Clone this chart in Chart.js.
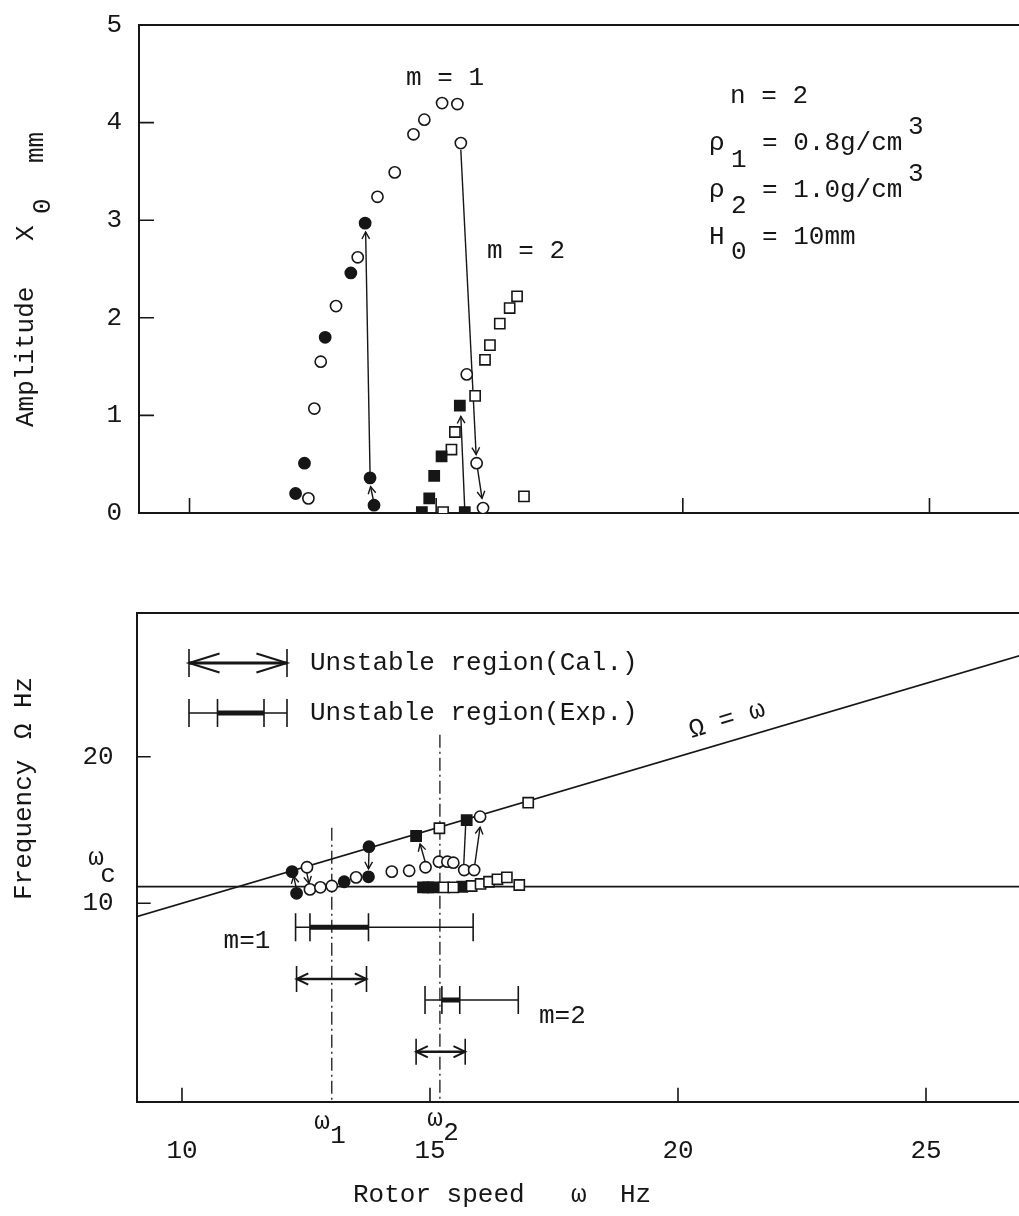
<!DOCTYPE html>
<html>
<head>
<meta charset="utf-8">
<script src="https://cdn.jsdelivr.net/npm/chart.js@4.4.1/dist/chart.umd.min.js"></script>
<style>
  html, body { margin: 0; padding: 0; background: #fff; }
  #wrap { position: relative; width: 1019px; height: 1216px; overflow: hidden; background: #fff; }
  canvas { position: absolute; left: 0; }
  #ampChart { top: 0; }
  #freqChart { top: 570px; }
</style>
</head>
<body>
<div id="wrap">
  <canvas id="ampChart" width="1019" height="570"></canvas>
  <canvas id="freqChart" width="1019" height="646"></canvas>
</div>
<script>
// ---- top panel: amplitude X0 (mm) vs rotor speed w (Hz)
const ampXTicks = [10, 15, 20, 25];
const ampYTicks = [0, 1, 2, 3, 4, 5];

const m1OpenW = [12.41, 12.53, 12.66, 12.97, 13.41, 13.81, 14.16, 14.54, 14.76, 15.12, 15.43, 15.50, 15.62, 15.82, 15.95];
const m1OpenAmp = [0.15, 1.07, 1.55, 2.12, 2.62, 3.24, 3.49, 3.88, 4.03, 4.20, 4.19, 3.79, 1.42, 0.51, 0.05];
const m1FillW = [12.15, 12.33, 12.75, 13.27, 13.56, 13.66, 13.74];
const m1FillAmp = [0.20, 0.51, 1.80, 2.46, 2.97, 0.36, 0.08];
const m2FillW = [14.71, 14.86, 14.96, 15.11, 15.48, 15.58];
const m2FillAmp = [0.01, 0.15, 0.38, 0.58, 1.10, 0.01];
const m2OpenW = [15.14, 15.31, 15.38, 15.79, 15.99, 16.09, 16.29, 16.49, 16.64, 16.78];
const m2OpenAmp = [0.01, 0.65, 0.83, 1.20, 1.57, 1.72, 1.94, 2.10, 2.22, 0.17];

// jumps: [w from, amp from, w to, amp to]
const ampJumps = [
  [13.74, 0.10, 13.67, 0.27],
  [13.66, 0.40, 13.57, 2.88],
  [15.50, 3.72, 15.81, 0.60],
  [15.84, 0.45, 15.93, 0.15],
  [15.58, 0.03, 15.50, 0.99]
];

// ---- bottom panel: frequency Omega (Hz) vs rotor speed w (Hz)
const freqXTicks = [10, 15, 20, 25];
const freqYTicks = [10, 20];

const fFillCircW = [12.22, 12.31, 13.27, 13.77, 13.76];
const fFillCircF = [12.16, 10.68, 11.47, 13.86, 11.81];
const fOpenCircW = [12.52, 12.58, 12.79, 13.02, 13.51, 14.23, 14.58, 14.91, 15.18, 15.35, 15.47, 15.69, 15.89, 16.01];
const fOpenCircF = [12.46, 10.95, 11.09, 11.18, 11.77, 12.16, 12.22, 12.46, 12.84, 12.84, 12.77, 12.27, 12.27, 15.91];
const fFillSqW = [14.72, 15.74, 14.86, 14.96, 15.06, 15.65];
const fFillSqF = [14.59, 15.68, 11.09, 11.09, 11.09, 11.13];
const fOpenSqW = [15.19, 16.98, 15.28, 15.47, 15.84, 16.02, 16.19, 16.36, 16.55, 16.80];
const fOpenSqF = [15.12, 16.86, 11.09, 11.09, 11.18, 11.32, 11.47, 11.64, 11.77, 11.25];

const syncW = [9, 27];          // Omega = w
const omegaC = 11.14;           // w_c
const critW = [13.02, 15.20];   // w1, w2
const critTop = [15.15, 21.5];

// [w from, F from, w to, F to, head]
const freqJumps = [
  [13.77, 13.60, 13.76, 12.35, 1],
  [12.31, 10.95, 12.25, 11.85, 1],
  [12.51, 12.20, 12.56, 11.35, 1],
  [14.91, 12.75, 14.80, 14.05, 1],
  [15.72, 15.40, 15.68, 12.60, 0],
  [15.90, 12.55, 16.01, 15.20, 1]
];

// unstable regions: calculated (arrows) and experimental (bars)
const calLevel = [4.84, -0.12];
const calFrom = [12.31, 14.72];
const calTo = [13.72, 15.71];
const expLevel = [8.36, 3.40];
const expFrom = [12.29, 14.90];
const expLo = [12.58, 15.24];
const expHi = [13.76, 15.60];
const expTo = [15.87, 16.78];

const ink = '#161616';
const mono = '"Liberation Mono", "DejaVu Sans Mono", monospace';
const fpx = 26;

function pts(ws, vs) { return ws.map((w, i) => ({ x: w, y: vs[i] })); }

function markers(ws, vs, shape, filled, clip) {
  return {
    data: pts(ws, vs),
    showLine: false,
    pointStyle: shape,
    pointRadius: shape === 'rect' ? 7.2 : 5.6,
    pointBorderWidth: 1.6,
    pointBorderColor: ink,
    pointBackgroundColor: filled ? ink : '#fff',
    clip: clip,
    order: 0
  };
}

function line(ws, vs, width, dash, order) {
  return {
    data: pts(ws, vs),
    showLine: true,
    borderColor: ink,
    borderWidth: width,
    borderDash: dash || [],
    pointRadius: 0,
    tension: 0,
    order: order || 5
  };
}

function caps(ws, level, half) {
  return {
    data: ws.map(w => ({ x: w, y: level })),
    showLine: false,
    pointStyle: 'line',
    pointRotation: 90,
    pointRadius: half,
    pointBorderWidth: 1.6,
    pointBorderColor: ink,
    order: 4
  };
}

function arrow(ctx, x1, y1, x2, y2, head, len, spread) {
  ctx.beginPath(); ctx.moveTo(x1, y1); ctx.lineTo(x2, y2); ctx.stroke();
  if (head) chevron(ctx, x2, y2, Math.atan2(y2 - y1, x2 - x1), len || 9, spread || 0.45);
}

function chevron(ctx, tx, ty, a, len, spread) {
  ctx.beginPath();
  ctx.moveTo(tx - len * Math.cos(a - spread), ty - len * Math.sin(a - spread));
  ctx.lineTo(tx, ty);
  ctx.lineTo(tx - len * Math.cos(a + spread), ty - len * Math.sin(a + spread));
  ctx.stroke();
}

function txt(ctx, s, x, y, align) {
  ctx.textAlign = align || 'left';
  ctx.textBaseline = 'middle';
  ctx.fillText(s, x, y);
}

function rotTxt(ctx, s, x, y) {
  ctx.save();
  ctx.translate(x, y);
  ctx.rotate(-Math.PI / 2);
  txt(ctx, s, 0, 0);
  ctx.restore();
}

function innerTicks(chart, xs, ys, len) {
  const { ctx, chartArea: a, scales: { x, y } } = chart;
  ctx.save();
  ctx.strokeStyle = ink;
  ctx.lineWidth = 1.6;
  ctx.beginPath();
  xs.forEach(v => { const p = x.getPixelForValue(v); ctx.moveTo(p, a.bottom); ctx.lineTo(p, a.bottom - len); });
  ys.forEach(v => { const p = y.getPixelForValue(v); ctx.moveTo(a.left, p); ctx.lineTo(a.left + len, p); });
  ctx.stroke();
  ctx.restore();
}

function hidden() {
  return { display: false, drawTicks: false };
}

// pin the axis box to a fixed size and drop chart.js' label overflow padding
function fixBox(w, h) {
  return s => {
    if (w !== null) s.width = w;
    if (h !== null) s.height = h;
    s.paddingTop = 0; s.paddingBottom = 0; s.paddingLeft = 0; s.paddingRight = 0;
  };
}

const ampDecor = {
  id: 'ampDecor',
  beforeDatasetsDraw(chart) {
    const { ctx, scales: { x, y } } = chart;
    ctx.save();
    ctx.strokeStyle = ink;
    ctx.lineWidth = 1.4;
    ampJumps.forEach(j => arrow(ctx, x.getPixelForValue(j[0]), y.getPixelForValue(j[1]),
      x.getPixelForValue(j[2]), y.getPixelForValue(j[3]), true, 8, 0.5));
    ctx.restore();
  },
  afterDraw(chart) {
    const ctx = chart.ctx;
    innerTicks(chart, ampXTicks, ampYTicks.filter(v => v > 0 && v < 5), 15);
    ctx.save();
    ctx.fillStyle = ink;
    ctx.font = fpx + 'px ' + mono;
    txt(ctx, 'm = 1', 406, 78);
    txt(ctx, 'm = 2', 487, 251);
    txt(ctx, 'n = 2', 730, 96);
    txt(ctx, 'ρ', 709, 143); txt(ctx, '1', 731, 160); txt(ctx, '= 0.8g/cm', 762, 143); txt(ctx, '3', 908, 127);
    txt(ctx, 'ρ', 709, 190); txt(ctx, '2', 731, 206); txt(ctx, '= 1.0g/cm', 762, 190); txt(ctx, '3', 908, 174);
    txt(ctx, 'H', 709, 237); txt(ctx, '0', 731, 252); txt(ctx, '= 10mm', 762, 237);
    rotTxt(ctx, 'Amplitude', 26, 427);
    rotTxt(ctx, 'X', 26, 241);
    rotTxt(ctx, '0', 43, 214);
    rotTxt(ctx, 'mm', 36, 163);
    ctx.restore();
  }
};

new Chart(document.getElementById('ampChart'), {
  type: 'scatter',
  data: {
    datasets: [
      markers(m1OpenW, m1OpenAmp, 'circle', false, 0),
      markers(m1FillW, m1FillAmp, 'circle', true, 0),
      markers(m2FillW, m2FillAmp, 'rect', true, 0),
      markers(m2OpenW, m2OpenAmp, 'rect', false, 0)
    ]
  },
  options: {
    responsive: false,
    animation: false,
    layout: { padding: 0, autoPadding: false },
    plugins: { legend: { display: false }, tooltip: { enabled: false } },
    scales: {
      x: {
        type: 'linear', position: 'bottom', min: 8.976, max: 26.815,
        afterBuildTicks: s => { s.ticks = ampXTicks.map(v => ({ value: v })); },
        ticks: { display: false }, grid: hidden(),
        border: { color: ink, width: 2 },
        afterFit: fixBox(null, 57)
      },
      xTop: {
        type: 'linear', position: 'top', min: 8.976, max: 26.815,
        ticks: { display: false }, grid: hidden(),
        border: { color: ink, width: 2 },
        afterFit: fixBox(null, 25)
      },
      y: {
        type: 'linear', position: 'left', min: 0, max: 5,
        afterBuildTicks: s => { s.ticks = ampYTicks.map(v => ({ value: v })); },
        ticks: { color: ink, font: { family: mono, size: fpx }, padding: 17 },
        grid: hidden(),
        border: { color: ink, width: 2 },
        afterFit: fixBox(139, null)
      }
    }
  },
  plugins: [ampDecor]
});

// ---- bottom panel
const freqDecor = {
  id: 'freqDecor',
  beforeDatasetsDraw(chart) {
    const { ctx, scales: { x, y } } = chart;
    ctx.save();
    ctx.strokeStyle = ink;
    ctx.lineWidth = 1.4;
    freqJumps.forEach(j => arrow(ctx, x.getPixelForValue(j[0]), y.getPixelForValue(j[1]),
      x.getPixelForValue(j[2]), y.getPixelForValue(j[3]), j[4], 8, 0.5));
    ctx.lineWidth = 2;
    calLevel.forEach((lv, i) => {
      const py = y.getPixelForValue(lv);
      chevron(ctx, x.getPixelForValue(calFrom[i]), py, Math.PI, 13, 0.45);
      chevron(ctx, x.getPixelForValue(calTo[i]), py, 0, 13, 0.45);
    });
    ctx.restore();
  },
  afterDraw(chart) {
    const ctx = chart.ctx;
    innerTicks(chart, freqXTicks, freqYTicks, 14);
    ctx.save();
    ctx.strokeStyle = ink;
    ctx.fillStyle = ink;
    // legend
    const lx0 = 189, lx1 = 287, ly1 = 93, ly2 = 143;
    ctx.lineWidth = 1.6;
    ctx.beginPath();
    [lx0, lx1].forEach(px => { ctx.moveTo(px, ly1 - 14); ctx.lineTo(px, ly1 + 14); });
    [lx0, 217.5, 264, lx1].forEach(px => { ctx.moveTo(px, ly2 - 14); ctx.lineTo(px, ly2 + 14); });
    ctx.moveTo(lx0, ly2); ctx.lineTo(lx1, ly2);
    ctx.stroke();
    ctx.lineWidth = 3;
    ctx.beginPath(); ctx.moveTo(lx0, ly1); ctx.lineTo(lx1, ly1); ctx.stroke();
    ctx.lineWidth = 2;
    chevron(ctx, lx0, ly1, Math.PI, 32, 0.3);
    chevron(ctx, lx1, ly1, 0, 32, 0.3);
    ctx.lineWidth = 5;
    ctx.beginPath(); ctx.moveTo(217.5, ly2); ctx.lineTo(264, ly2); ctx.stroke();
    ctx.font = fpx + 'px ' + mono;
    txt(ctx, 'Unstable region(Cal.)', 310, ly1);
    txt(ctx, 'Unstable region(Exp.)', 310, ly2);
    // labels
    ctx.save();
    ctx.translate(727, 150);
    ctx.rotate(-17 * Math.PI / 180);
    txt(ctx, 'Ω = ω', 0, 0, 'center');
    ctx.restore();
    txt(ctx, 'm=1', 247, 371, 'center');
    txt(ctx, 'm=2', 539, 446);
    txt(ctx, 'ω', 96, 288, 'center'); txt(ctx, 'c', 108, 305, 'center');
    txt(ctx, 'ω', 322, 552, 'center'); txt(ctx, '1', 338, 566, 'center');
    txt(ctx, 'ω', 435, 549, 'center'); txt(ctx, '2', 451, 563, 'center');
    txt(ctx, 'Rotor speed', 353, 625);
    txt(ctx, 'ω', 571, 625);
    txt(ctx, 'Hz', 620, 625);
    rotTxt(ctx, 'Frequency', 24, 330);
    rotTxt(ctx, 'Ω', 24, 169);
    rotTxt(ctx, 'Hz', 24, 138);
    ctx.restore();
  }
};

const freqSets = [
  markers(fOpenSqW, fOpenSqF, 'rect', false, false),
  markers(fFillSqW, fFillSqF, 'rect', true, false),
  markers(fOpenCircW, fOpenCircF, 'circle', false, false),
  markers(fFillCircW, fFillCircF, 'circle', true, false),
  line(syncW, syncW, 1.6),
  line([9, 27], [omegaC, omegaC], 1.6),
  line([critW[0], critW[0]], [critTop[0], -5], 1.3, [13, 4, 2, 4], 6),
  line([critW[1], critW[1]], [critTop[1], -5], 1.3, [13, 4, 2, 4], 6)
];
calLevel.forEach((lv, i) => {
  freqSets.push(line([calFrom[i], calTo[i]], [lv, lv], 2.6));
  freqSets.push(caps([calFrom[i], calTo[i]], lv, 13));
});
expLevel.forEach((lv, i) => {
  freqSets.push(line([expFrom[i], expTo[i]], [lv, lv], 1.5));
  freqSets.push(line([expLo[i], expHi[i]], [lv, lv], 5));
  freqSets.push(caps([expFrom[i], expLo[i], expHi[i], expTo[i]], lv, 14));
});

new Chart(document.getElementById('freqChart'), {
  type: 'scatter',
  data: { datasets: freqSets },
  options: {
    responsive: false,
    animation: false,
    layout: { padding: 0, autoPadding: false },
    plugins: { legend: { display: false }, tooltip: { enabled: false } },
    scales: {
      x: {
        type: 'linear', position: 'bottom', min: 9.087, max: 26.875,
        afterBuildTicks: s => { s.ticks = freqXTicks.map(v => ({ value: v })); },
        ticks: { color: ink, font: { family: mono, size: fpx }, padding: 34 },
        grid: hidden(),
        border: { color: ink, width: 2 },
        afterFit: fixBox(null, 114.3)
      },
      xTop: {
        type: 'linear', position: 'top', min: 9.087, max: 26.875,
        ticks: { display: false }, grid: hidden(),
        border: { color: ink, width: 2 },
        afterFit: fixBox(null, 43)
      },
      y: {
        type: 'linear', position: 'left', min: -3.53, max: 29.8,
        afterBuildTicks: s => { s.ticks = freqYTicks.map(v => ({ value: v })); },
        ticks: { color: ink, font: { family: mono, size: fpx }, padding: 23 },
        grid: hidden(),
        border: { color: ink, width: 2 },
        afterFit: fixBox(136.7, null)
      }
    }
  },
  plugins: [freqDecor]
});
</script>
</body>
</html>
